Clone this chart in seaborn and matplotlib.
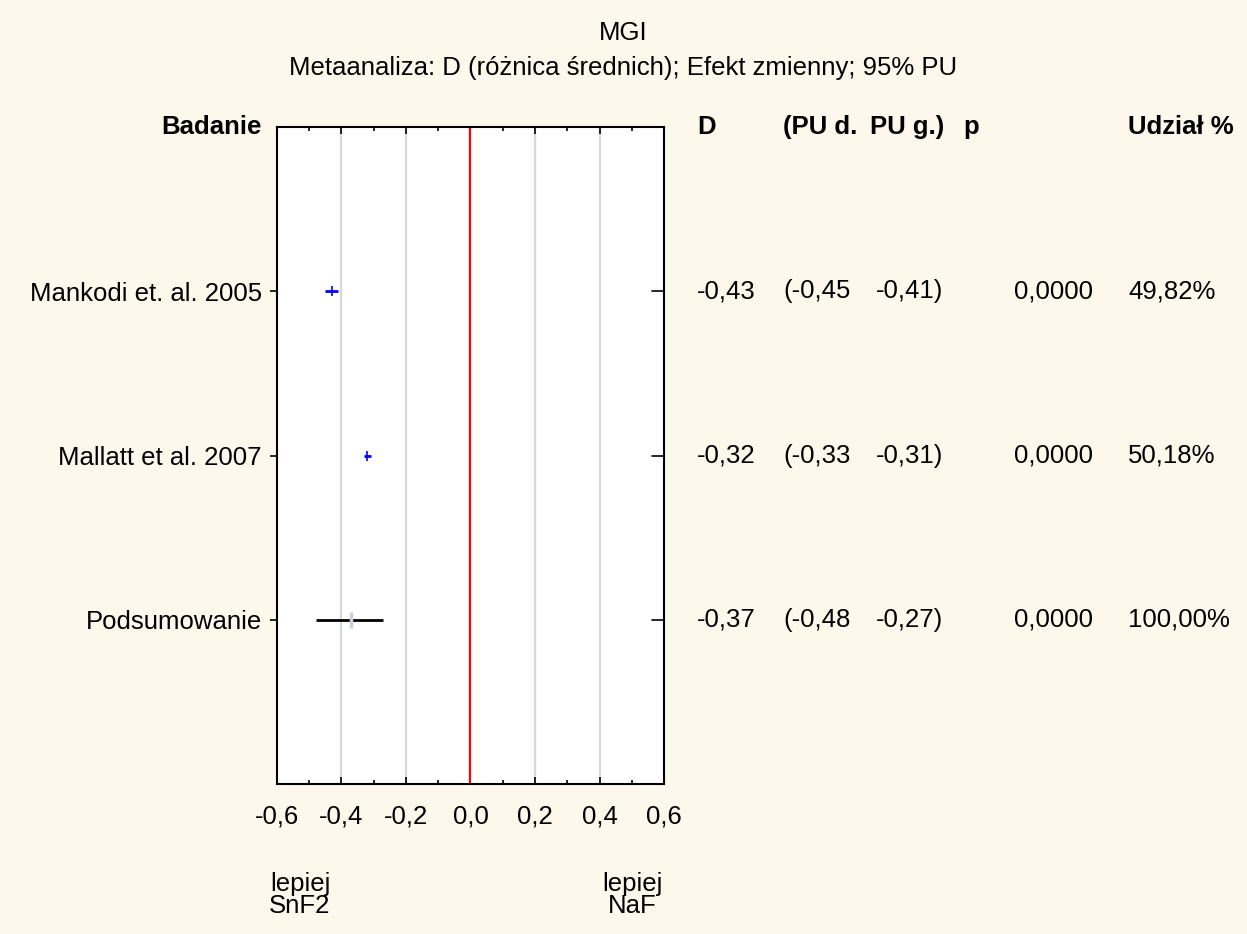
'''
Forest plot: MGI meta-analysis (SnF2 vs NaF)
'''

import pandas as pd
import numpy as np
import matplotlib.pyplot as plt
import seaborn as sns

# Data
studies = ['Mankodi et. al. 2005', 'Mallatt et al. 2007', 'Podsumowanie']
d_vals = [-0.43, -0.32, -0.37]
ci_low = [-0.45, -0.33, -0.48]
ci_high = [-0.41, -0.31, -0.27]
p_vals = [0.0, 0.0, 0.0]
weights = [49.82, 50.18, 100.00]
rows = [1, 2, 3]

df = pd.DataFrame({
    'study': studies,
    'd': d_vals,
    'lo': ci_low,
    'hi': ci_high,
    'p': p_vals,
    'w': weights,
    'row': rows,
})

bg = '#fdf8ec'
sns.set_theme(style='white')
plt.rcParams['font.family'] = ['Liberation Sans', 'DejaVu Sans']
plt.rcParams['text.color'] = 'black'
plt.rcParams['xtick.color'] = 'black'
plt.rcParams['ytick.color'] = 'black'
fs = 18.5

fig = plt.figure(figsize=(12.47, 9.34), dpi=100, facecolor=bg)
ax = fig.add_axes([0.2221, 0.1606, 0.3104, 0.7034])
ax.set_facecolor('white')

# grid and zero line
for gx in [-0.4, -0.2, 0.2, 0.4]:
    ax.axvline(gx, color='#d8d8d8', lw=1.6, zorder=0)
ax.axvline(0, color='red', lw=1.6, zorder=1)

# confidence intervals
studies_df = df[df['study'] != 'Podsumowanie']
summ_df = df[df['study'] == 'Podsumowanie']
ax.hlines(studies_df['row'], studies_df['lo'], studies_df['hi'], color='blue', lw=2, zorder=3)
ax.hlines(summ_df['row'], summ_df['lo'], summ_df['hi'], color='black', lw=2, zorder=3)
sns.scatterplot(data=studies_df, x='d', y='row', marker='|', s=60, color='blue',
                linewidth=1.2, ax=ax, zorder=4, legend=False)
sns.scatterplot(data=summ_df, x='d', y='row', marker='|', s=120, color='#c9d2dc',
                linewidth=2.5, ax=ax, zorder=4, legend=False)

ax.set_xlim(-0.6, 0.6)
ax.set_ylim(4, 0)
ax.set_xticks(np.arange(-0.6, 0.61, 0.2))
ax.set_xticks(np.arange(-0.5, 0.6, 0.2), minor=True)
ax.set_xticklabels([f'{v:.1f}'.replace('.', ',').replace('-0,0', '0,0') for v in np.arange(-0.6, 0.61, 0.2)],
                   fontsize=fs)
ax.set_yticks(rows)
ax.set_yticklabels(studies, fontsize=fs)
ax.set_xlabel('')
ax.set_ylabel('')
ax.tick_params(axis='x', which='both', direction='in', top=True, bottom=True,
               length=5, width=1.2, color='black', pad=15)
ax.tick_params(axis='x', which='minor', length=3)
ax.tick_params(axis='y', which='both', direction='out', left=True, right=False,
               length=5, width=1.2, color='black', pad=6)
for r in rows:
    ax.plot([0.97, 1.0], [r, r], transform=ax.get_yaxis_transform(), color='black', lw=1.2,
            clip_on=False)
for s in ax.spines.values():
    s.set_color('black')
    s.set_linewidth(1.5)

# header
ax.text(-0.04, 1.0, 'Badanie', transform=ax.transAxes, ha='right', va='center',
        fontsize=fs, fontweight='bold')
fig.text(0.5, 1 - 33 / 934, 'MGI', ha='center', va='center', fontsize=fs)
fig.text(0.5, 1 - 68 / 934, 'Metaanaliza: D (różnica średnich); Efekt zmienny; 95% PU',
         ha='center', va='center', fontsize=fs)

# table columns (x positions in pixels / 1247)
cols = [697, 783, 870, 963, 1128]
headers = ['D', '(PU d.', 'PU g.)', 'p', 'Udział %']
for cx, h in zip(cols, headers):
    fig.text(cx / 1247, 1 - 127 / 934, h, ha='left', va='center', fontsize=fs, fontweight='bold')


def fmt(v):
    return f'{v:.2f}'.replace('.', ',')


for _, r in df.iterrows():
    y = 1 - (127 + r['row'] * 164.25) / 934
    cells = [fmt(r['d']), '(' + fmt(r['lo']), fmt(r['hi']) + ')',
             f"{r['p']:.4f}".replace('.', ','), fmt(r['w']) + '%']
    for cx, c in zip([697, 783, 876, 1014, 1128], cells):
        fig.text(cx / 1247, y, c, ha='left', va='center', fontsize=fs)

fig.text(300 / 1247, 1 - 895 / 934, 'lepiej\nSnF2', ha='center', va='center',
         fontsize=fs, linespacing=0.9)
fig.text(632 / 1247, 1 - 895 / 934, 'lepiej\nNaF', ha='center', va='center',
         fontsize=fs, linespacing=0.9)

plt.savefig('out.png', dpi=100, facecolor=bg)
